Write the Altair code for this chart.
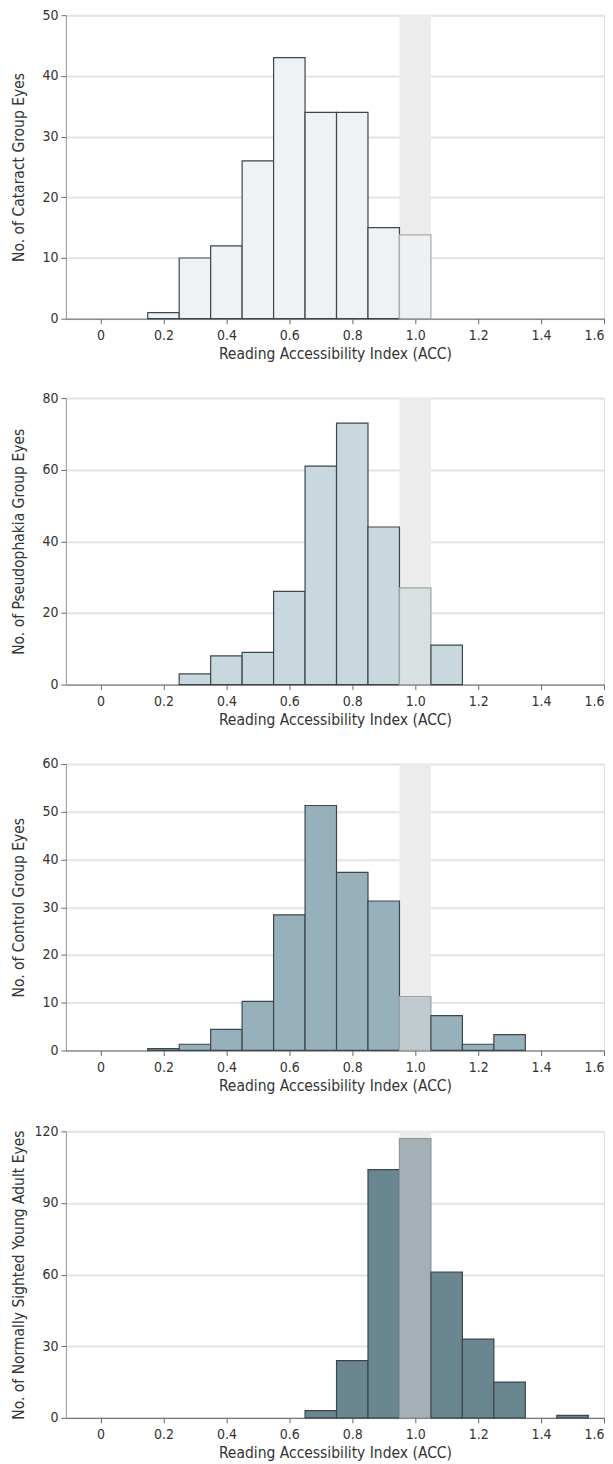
import altair as alt
import pandas as pd

# bin centres of the Reading Accessibility Index histogram (bin width 0.1)
acc_bins = [0.2, 0.3, 0.4, 0.5, 0.6, 0.7, 0.8, 0.9, 1.0, 1.1, 1.2, 1.3, 1.4, 1.5]
cataract = [1, 10, 12, 26, 43, 34, 34, 15, 13.8, 0, 0, 0, 0, 0]
pseudophakia = [0, 3, 8, 9, 26, 61, 73, 44, 27, 11, 0, 0, 0, 0]
control = [0.4, 1.3, 4.4, 10.3, 28.4, 51.3, 37.3, 31.3, 11.3, 7.3, 1.3, 3.3, 0, 0]
young_adult = [0, 0, 0, 0, 0, 3, 24, 104, 117, 61, 33, 15, 0, 1]

x_ticks = [0, 0.2, 0.4, 0.6, 0.8, 1.0, 1.2, 1.4, 1.6]
ref_band = [0.95, 1.05]  # normal reading range highlighted
ref_bin = 1.0

FONT = "Liberation Sans Narrow, DejaVu Sans Condensed, Roboto Condensed, Open Sans, sans-serif"
W = 539


def panel(counts, ytitle, ymax, ystep, fill, hfill, hstroke, height):
    df = pd.DataFrame({"acc": acc_bins, "n": counts})
    df = df[df["n"] > 0]
    base = alt.Chart(df).transform_calculate(
        lo="datum.acc - 0.05", hi="datum.acc + 0.05",
        ref=f"abs(datum.acc - {ref_bin}) < 0.01",
    )
    xscale = alt.Scale(domain=[-0.11, 1.6], nice=False, zero=False)
    yscale = alt.Scale(domain=[0, ymax], nice=False)
    band_df = pd.DataFrame({"lo": [ref_band[0]], "hi": [ref_band[1]], "top": [ymax]})
    band = alt.Chart(band_df).mark_rect(color="#ebeceb").encode(
        x=alt.X(
            "lo:Q",
            scale=xscale,
            title="Reading Accessibility Index (ACC)",
            axis=alt.Axis(
                values=x_ticks,
                labelExpr="datum.value == 0 ? '0' : format(datum.value, '.1f')",
                grid=False,
                domainColor="#666666",
                tickColor="#666666",
                tickSize=5,
                labelFontSize=14,
                labelColor="#333333",
                labelPadding=5,
                titleFontSize=15.5,
                titleFontWeight="normal",
                titleColor="#333333",
                titlePadding=4,
                labelFont=FONT,
                titleFont=FONT,
            ),
        ),
        x2="hi:Q",
        y=alt.Y(
            "top:Q",
            scale=yscale,
            title=ytitle,
            axis=alt.Axis(
                values=list(range(0, ymax + 1, ystep)),
                grid=True,
                gridColor="#e3e3e3",
                gridWidth=2,
                domainColor="#999999",
                tickColor="#666666",
                tickSize=5,
                labelFontSize=14,
                labelColor="#333333",
                labelPadding=3,
                titleFontSize=15.5,
                titleFontWeight="normal",
                titleColor="#333333",
                titleX=-39,
                labelFont=FONT,
                titleFont=FONT,
            ),
        ),
        y2=alt.value(height),
    )
    bars = base.mark_rect(strokeWidth=1.2).encode(
        x=alt.X("lo:Q", scale=xscale),
        x2="hi:Q",
        y=alt.Y("n:Q", scale=yscale),
        y2=alt.value(height),
        fill=alt.condition("datum.ref", alt.value(hfill), alt.value(fill)),
        stroke=alt.condition("datum.ref", alt.value(hstroke), alt.value("#3c464b")),
    )
    return alt.layer(band, bars).properties(width=W, height=height)


top3 = alt.vconcat(
    panel(cataract, "No. of Cataract Group Eyes", 50, 10, "#eef2f5", "#eef0f1", "#a8abad", 304),
    panel(pseudophakia, "No. of Pseudophakia Group Eyes", 80, 20, "#c9d8de", "#d9e0e2", "#a0a4a6", 287),
    panel(control, "No. of Control Group Eyes", 60, 10, "#97b1bc", "#c0cbd0", "#9aa2a6", 287),
    spacing=27.5,
)
chart = alt.vconcat(
    top3,
    panel(young_adult, "No. of Normally Sighted Young Adult Eyes", 120, 30, "#6a8791", "#a4b0b5", "#8c9497", 287),
    spacing=29,
).properties(padding={"left": 3, "top": -2, "right": 0, "bottom": 0}).configure_view(
    stroke=None
).configure(background="white")

chart.save("out.html", embed_options={"renderer": "svg", "actions": False})
